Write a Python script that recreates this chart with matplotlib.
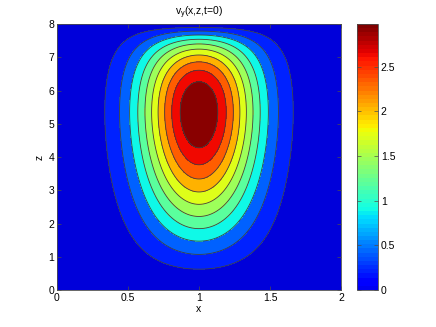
import numpy as np
import matplotlib
matplotlib.use('Agg')
import matplotlib.pyplot as plt
from matplotlib.colors import ListedColormap
from matplotlib.cm import ScalarMappable
from matplotlib.colors import Normalize

plt.rcParams['font.family'] = ['Liberation Sans', 'DejaVu Sans']
plt.rcParams['font.size'] = 7.5

# field parameters
v_max = 2.98          # peak of v_y
x_center = 1.0        # x of the peak
x_sigma = 0.303       # gaussian width in x
z_top = 8.0           # v_y vanishes here
z_peak = 5.35         # z of the peak
z_power = 1.3         # growth exponent near z = 0
n_levels = 11         # filled bands

x_ticks = [0, 0.5, 1, 1.5, 2]
z_ticks = [0, 1, 2, 3, 4, 5, 6, 7, 8]
cb_ticks = [0, 0.5, 1, 1.5, 2, 2.5]

x = np.linspace(0, 2, 301)
z = np.linspace(0, z_top, 401)
X, Z = np.meshgrid(x, z)

# profile in x: gaussian; profile in z: z^a (ztop-z) e^{kz}, peak at z_peak
k = 1.0 / (z_top - z_peak) - z_power / z_peak
def gz(zz):
    return zz ** z_power * (z_top - zz) * np.exp(k * zz)
vy = v_max * np.exp(-(X - x_center) ** 2 / (2 * x_sigma ** 2)) * gz(Z) / gz(z_peak)

levels = np.linspace(0, v_max, n_levels + 1)
jet = plt.cm.jet
# position in jet of each band colour, as seen in the picture
band_pos = [0.08, 0.16, 0.22, 0.37, 0.46, 0.54, 0.62, 0.72, 0.81, 0.90, 0.99]
band_colors = [jet(p) for p in band_pos]

fig = plt.figure(figsize=(4.36, 3.27), dpi=100)
ax = fig.add_axes([0.1307, 0.1131, 0.6514, 0.8135])
ax.contourf(X, Z, vy, levels=levels, colors=band_colors)
ax.contour(X, Z, vy, levels=levels[1:-1], colors='0.25', linewidths=0.6)

ax.set_xlim(0, 2)
ax.set_ylim(0, 8)
ax.set_xticks(x_ticks)
ax.set_xticklabels(['0', '0.5', '1', '1.5', '2'])
ax.set_yticks(z_ticks)
ax.tick_params(direction='in', top=True, right=True, length=3, width=0.5,
               colors='0.3', labelcolor='black', pad=2)
for s in ax.spines.values():
    s.set_linewidth(0.6)
    s.set_color('0.3')
ax.set_xlabel('x', labelpad=1)
ax.set_ylabel('z', labelpad=3)
ax.set_title(r'v$_\mathregular{y}$(x,z,t=0)', fontsize=7.5, pad=6)

cax = fig.add_axes([0.8188, 0.1131, 0.0482, 0.8135])
cmap = ListedColormap(jet(np.linspace(0.1, 1, 64)))
sm = ScalarMappable(norm=Normalize(0, v_max), cmap=cmap)
cb = fig.colorbar(sm, cax=cax, ticks=cb_ticks)
cb.ax.set_yticklabels(['0', '0.5', '1', '1.5', '2', '2.5'])
cb.ax.tick_params(direction='in', left=True, right=True, length=3, width=0.5,
                  colors='0.3', labelcolor='black', pad=2)
cb.outline.set_linewidth(0.6)
cb.outline.set_edgecolor('0.3')

fig.savefig('out.png', dpi=100)
